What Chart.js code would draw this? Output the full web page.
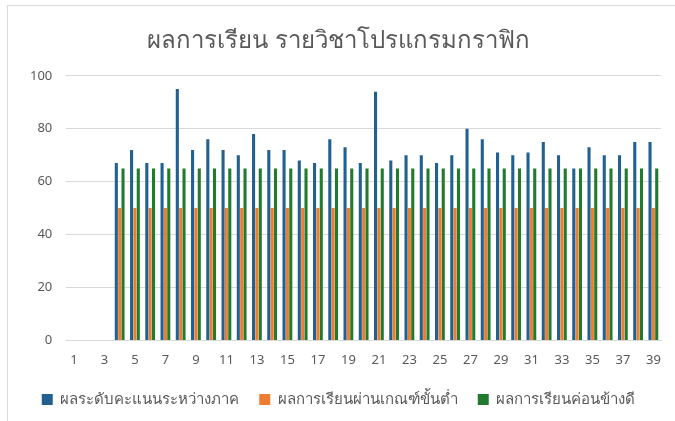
<!DOCTYPE html>
<html>
  <head>
    <meta charset="utf-8">
    <title>ผลการเรียน รายวิชาโปรแกรมกราฟิก</title>
    <script src="https://cdn.jsdelivr.net/npm/chart.js@4"></script>
    <style>
      body { margin: 0; background: #fff; }
      #wrap { position: relative; width: 675px; height: 421px; }
      #frame { position: absolute; left: 7px; top: 5px; width: 700px; height: 440px;
               border-left: 1px solid #d9d9d9; border-top: 1px solid #d9d9d9; }
      canvas { position: absolute; left: 0; top: 0; }
    </style>
  </head>
  <body>
    <div id="wrap">
      <div id="frame"></div>
      <canvas id="myChart" width="675" height="421"></canvas>
    </div>
    <script>
// students 1..39, first three have no score
var students = [];
for (var i = 1; i <= 39; i++) students.push(String(i));

var midterm = [null, null, null, 67, 72, 67, 67, 95, 72, 76,
               72, 70, 78, 72, 72, 68, 67, 76, 73, 67,
               94, 68, 70, 70, 67, 70, 80, 76, 71, 70,
               71, 75, 70, 65, 73, 70, 70, 75, 75];
var passMin = [null, null, null, 50, 50, 50, 50, 50, 50, 50,
               50, 50, 50, 50, 50, 50, 50, 50, 50, 50,
               50, 50, 50, 50, 50, 50, 50, 50, 50, 50,
               50, 50, 50, 50, 50, 50, 50, 50, 50];
var fairlyGood = [null, null, null, 65, 65, 65, 65, 65, 65, 65,
                  65, 65, 65, 65, 65, 65, 65, 65, 65, 65,
                  65, 65, 65, 65, 65, 65, 65, 65, 65, 65,
                  65, 65, 65, 65, 65, 65, 65, 65, 65];

var seriesNames = ['ผลระดับคะแนนระหว่างภาค', 'ผลการเรียนผ่านเกณฑ์ขั้นต่ำ', 'ผลการเรียนค่อนข้างดี'];
var fontFam = "'Noto Sans', 'DejaVu Sans', sans-serif";

var ctx = document.getElementById('myChart').getContext('2d');
var myChart = new Chart(ctx, {
    type: 'bar',
    data: {
        labels: students,
        datasets: [
            { label: seriesNames[0], data: midterm, backgroundColor: '#22618f' },
            { label: seriesNames[1], data: passMin, backgroundColor: '#ed7d31' },
            { label: seriesNames[2], data: fairlyGood, backgroundColor: '#217a2e' }
        ]
    },
    options: {
        responsive: false,
        animation: false,
        datasets: { bar: { categoryPercentage: 0.66, barPercentage: 0.92 } },
        layout: { padding: { left: 16, right: 14, top: 27, bottom: 4 } },
        plugins: {
            title: {
                display: true,
                text: 'ผลการเรียน รายวิชาโปรแกรมกราฟิก',
                color: '#595959',
                font: { family: fontFam, size: 24, weight: 'normal' },
                padding: { top: 0, bottom: 20 }
            },
            legend: {
                position: 'bottom',
                labels: {
                    color: '#595959',
                    font: { family: fontFam, size: 15 },
                    boxWidth: 11, boxHeight: 11,
                    padding: 20
                }
            },
            tooltip: { enabled: false }
        },
        scales: {
            x: {
                grid: { display: false },
                border: { color: '#d9d9d9' },
                ticks: {
                    color: '#595959',
                    font: { family: fontFam, size: 13 },
                    autoSkip: false,
                    maxRotation: 0,
                    padding: 4,
                    callback: function(val, index) {
                        return index % 2 === 0 ? this.getLabelForValue(val) : '';
                    }
                }
            },
            y: {
                min: 0, max: 100,
                border: { display: false },
                grid: { color: '#d9d9d9', drawTicks: false },
                ticks: {
                    stepSize: 20,
                    padding: 14,
                    color: '#595959',
                    font: { family: fontFam, size: 13 }
                }
            }
        }
    }
});
    </script>
  </body>
</html>
